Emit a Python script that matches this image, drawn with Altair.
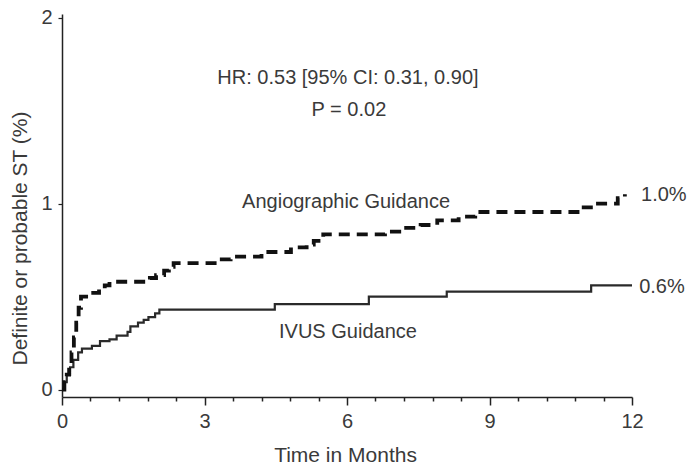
import altair as alt
import pandas as pd

# Angiographic guidance (cumulative %, step function)
angio_t = [0, 0.05, 0.1, 0.15, 0.2, 0.25, 0.3, 0.35, 0.4, 0.6, 0.78, 0.9, 1.0, 1.85, 1.98,
           2.15, 2.25, 2.35, 3.3, 3.55, 4.2, 4.82, 5.15, 5.3, 5.4, 5.5, 6.8, 7.1, 7.55, 7.9,
           8.35, 8.7, 10.9, 11.2, 11.7, 11.85]
angio_y = [0, 0.04, 0.08, 0.13, 0.2, 0.28, 0.36, 0.44, 0.5, 0.52, 0.54, 0.56, 0.58, 0.6, 0.615,
           0.64, 0.66, 0.68, 0.70, 0.715, 0.74, 0.765, 0.78, 0.8, 0.82, 0.835, 0.85, 0.87, 0.885, 0.91,
           0.93, 0.955, 0.98, 1.0, 1.03, 1.05]

# IVUS guidance
ivus_t = [0, 0.04, 0.1, 0.17, 0.24, 0.34, 0.42, 0.63, 0.8, 1.0, 1.15, 1.38, 1.44, 1.6, 1.72,
          1.82, 1.96, 2.05, 4.48, 6.46, 8.1, 11.14, 12.0]
ivus_y = [0, 0.04, 0.08, 0.12, 0.16, 0.2, 0.22, 0.235, 0.26, 0.27, 0.29, 0.31, 0.34, 0.36, 0.375,
          0.39, 0.41, 0.43, 0.46, 0.50, 0.527, 0.56, 0.56]

# Annotations (data coordinates)
ann_text = ["HR: 0.53 [95% CI: 0.31, 0.90]", "P = 0.02", "Angiographic Guidance", "IVUS Guidance"]
ann_x = [6.02, 6.04, 5.98, 6.02]
ann_y = [1.677, 1.505, 1.01, 0.312]

end_text = ["1.0%", "0.6%"]
end_x = [12.19, 12.15]
end_y = [1.048, 0.554]

x_ticks = [0, 0.6, 1.2, 1.8, 2.4, 3, 3.6, 4.2, 4.8, 5.4, 6, 6.6, 7.2, 7.8, 8.4, 9,
           9.6, 10.2, 10.8, 11.4, 12]
y_ticks = [0, 1, 2]

FONT = "Liberation Sans"
TXT = "#3a3a3a"

angio = pd.DataFrame({"t": angio_t, "y": angio_y})
ivus = pd.DataFrame({"t": ivus_t, "y": ivus_y})
ann = pd.DataFrame({"text": ann_text, "x": ann_x, "y": ann_y})
ends = pd.DataFrame({"text": end_text, "x": end_x, "y": end_y})

xscale = alt.Scale(domain=[0, 12], nice=False, zero=False)
yscale = alt.Scale(domain=[-0.04, 2.02], nice=False, zero=False)

xaxis = alt.Axis(
    values=x_ticks, tickCount=len(x_ticks),
    labelExpr="datum.value % 3 === 0 ? '' + datum.value : ''",
    tickSize={"condition": {"test": "datum.value % 3 === 0", "value": 8}, "value": 4},
    tickColor="#222", tickWidth=1.5, domainColor="#222", domainWidth=1.5,
    labelFont=FONT, labelFontSize=20, labelColor=TXT, labelPadding=6, labelFlush=False,
    labelOverlap=False,
    grid=False, title="Time in Months", titleFont=FONT, titleFontSize=21,
    titleFontWeight="normal", titleColor=TXT, titleX=283, titleY=58,
    titleBaseline="middle", titleAlign="center",
)
yaxis = alt.Axis(
    values=y_ticks, tickCount=len(y_ticks), labelExpr="'' + datum.value",
    tickSize=4, tickColor="#222",
    tickWidth=1.2, domainColor="#222", domainWidth=1.5, labelOverlap=False, labelFlush=False,
    labelFont=FONT, labelFontSize=20, labelColor=TXT, labelPadding=6,
    grid=False, title="Definite or probable ST (%)", titleFont=FONT, titleFontSize=21,
    titleFontWeight="normal", titleColor=TXT, titleX=-42, titleY=224,
    titleBaseline="middle", titleAlign="center", titleAngle=270,
)

X = lambda f: alt.X(f, scale=xscale, axis=xaxis)
Y = lambda f: alt.Y(f, scale=yscale, axis=yaxis)

l_ivus = alt.Chart(ivus).mark_line(interpolate="step-after", color="#2a2a2a", strokeWidth=2.2).encode(
    x=X("t:Q"), y=Y("y:Q"))
l_angio = alt.Chart(angio).mark_line(interpolate="step-after", color="#111111", strokeWidth=3.8,
                                     strokeDash=[11, 7]).encode(x=X("t:Q"), y=Y("y:Q"))
t_ann = alt.Chart(ann).mark_text(font=FONT, fontSize=20, color=TXT, align="center",
                                 baseline="middle").encode(
    x=X("x:Q"), y=Y("y:Q"), text="text:N")
t_end = alt.Chart(ends).mark_text(font=FONT, fontSize=20, color=TXT, align="left",
                                  baseline="middle").encode(
    x=X("x:Q"), y=Y("y:Q"), text="text:N")

chart = alt.layer(l_ivus, l_angio, t_ann, t_end).properties(
    width=570, height=383,
    autosize=alt.AutoSizeParams(type="none"),
    padding={"left": 62, "top": 14, "right": 56, "bottom": 67},
    view=alt.ViewBackground(stroke="transparent", strokeWidth=0),
).configure(background="white").configure_view(stroke="transparent", strokeWidth=0).configure_axis(
    labelOverlap=False
)

chart.save("out.html", embed_options={"renderer": "svg", "actions": False})
